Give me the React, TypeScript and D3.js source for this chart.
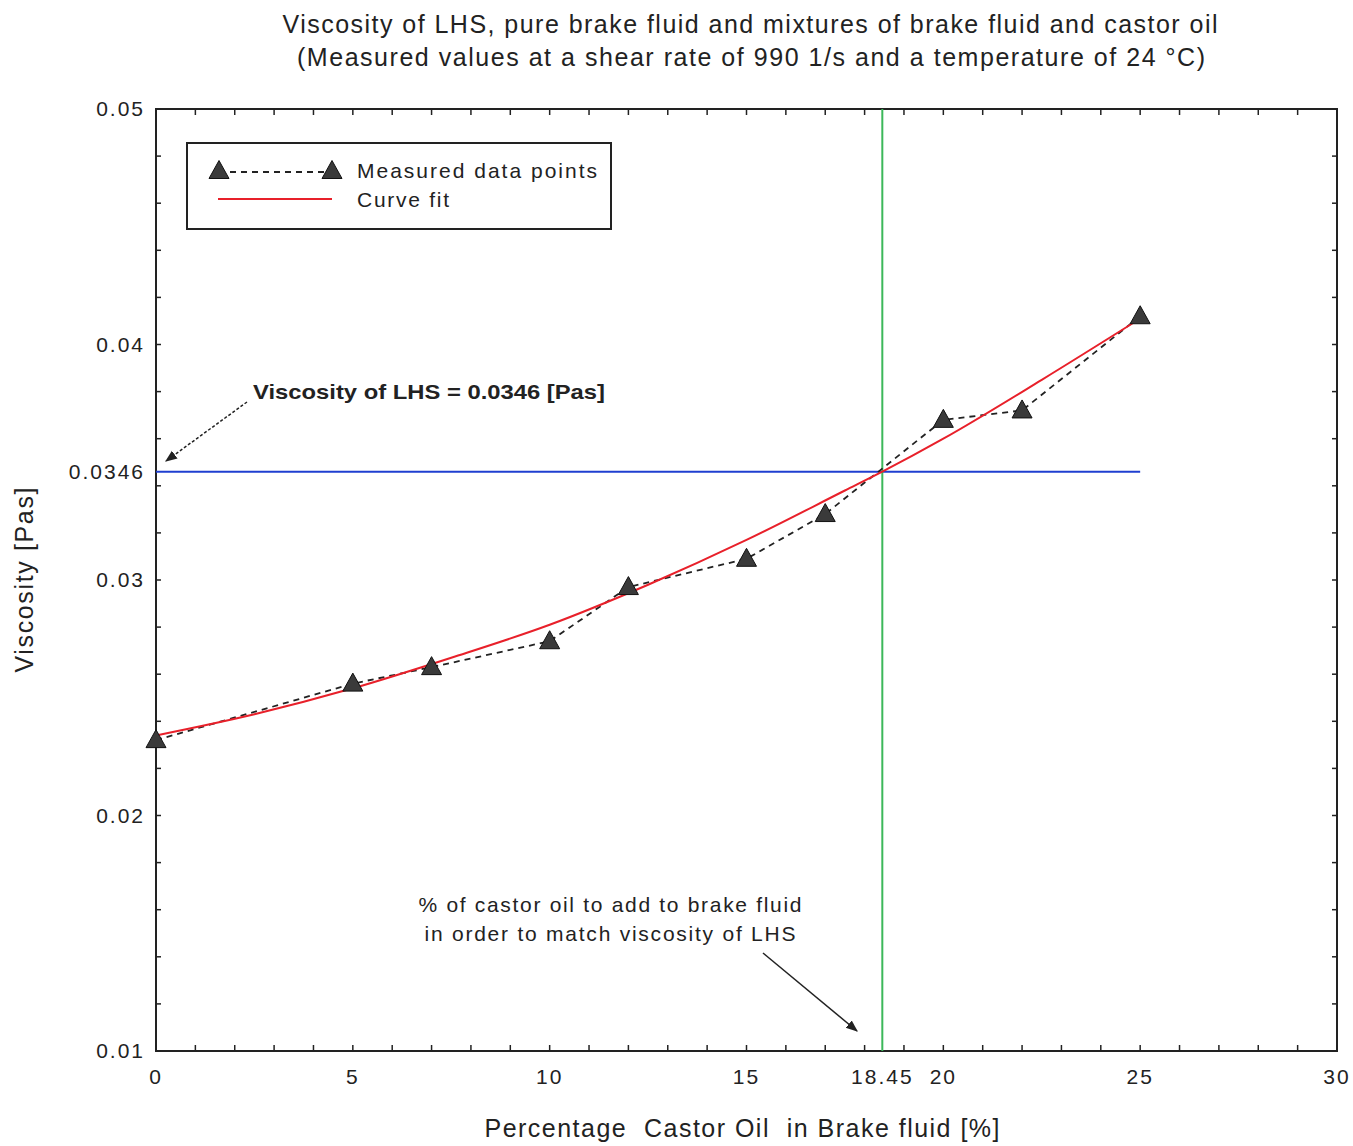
import React from "react";
import * as d3 from "d3";

const titleLines = [
  "Viscosity of LHS, pure brake fluid and mixtures of brake fluid and castor oil",
  "(Measured values at a shear rate of 990 1/s and a temperature of 24 \u00b0C)",
];
const xTickValues = [0, 5, 10, 15, 18.45, 20, 25, 30];
const xTickLabels = ["0", "5", "10", "15", "18.45", "20", "25", "30"];
const yTickValues = [0.01, 0.02, 0.03, 0.0346, 0.04, 0.05];
const yTickLabels = ["0.01", "0.02", "0.03", "0.0346", "0.04", "0.05"];

const measuredX = [0, 5, 7, 10, 12, 15, 17, 20, 22, 25];
const measuredY = [0.0232, 0.0256, 0.0263, 0.0274, 0.0297, 0.0309, 0.0328, 0.0368, 0.0372, 0.0412];

const fitX = [0, 2.5, 5, 7.5, 10, 12.5, 15, 17.5, 18.45, 20, 22.5, 25];
const fitY = [0.0234, 0.0243, 0.0254, 0.0267, 0.0281, 0.0298, 0.0317, 0.0338, 0.0346, 0.036, 0.0385, 0.0411];

const lhsViscosity = 0.0346;
const lhsLineX = [0, 25];
const matchPercent = 18.45;

const W = 1353;
const H = 1146;
const FONT = "'Liberation Sans', Arial, sans-serif";

export default function App() {
  const left = 156, right = 1337, top = 109, bottom = 1051;
  const x = d3.scaleLinear().domain([0, 30]).range([left, right]);
  const y = d3.scaleLinear().domain([0.01, 0.05]).range([bottom, top]);

  const measured = measuredX.map((v, i) => [v, measuredY[i]] as [number, number]);
  const fit = fitX.map((v, i) => [v, fitY[i]] as [number, number]);
  const lineGen = d3.line<[number, number]>().x((d) => x(d[0])).y((d) => y(d[1]));
  const fitGen = d3
    .line<[number, number]>()
    .x((d) => x(d[0]))
    .y((d) => y(d[1]))
    .curve(d3.curveMonotoneX);

  const tri = (cx: number, cy: number, s = 10) =>
    `M${cx},${cy - s * 1.05} L${cx + s},${cy + s * 0.75} L${cx - s},${cy + s * 0.75} Z`;

  const xMinor = d3.range(0, 31, 1);
  const yMinor = d3.range(0.01, 0.0501, 0.002);

  return (
    <div style={{ position: "absolute", left: 0, top: 0 }}>
      <svg width={W} height={H} style={{ display: "block", background: "#fff" }} fontFamily={FONT}>
        <defs>
          <marker id="ah" viewBox="0 0 10 10" refX="9" refY="5" markerWidth="8" markerHeight="8" orient="auto-start-reverse">
            <path d="M0,1 L10,5 L0,9 Z" fill="#222" />
          </marker>
        </defs>
        {/* Title */}
        <text x={750} y={33} textAnchor="middle" fontSize={25} fill="#222" textLength={935} lengthAdjust="spacing">
          {titleLines[0]}
        </text>
        <text x={751} y={66} textAnchor="middle" fontSize={25} fill="#222" textLength={908} lengthAdjust="spacing">
          {titleLines[1]}
        </text>

        {/* frame */}
        <rect x={left} y={top} width={right - left} height={bottom - top} fill="none" stroke="#222" strokeWidth={2} />

        {/* ticks */}
        {xMinor.map((v) => (
          <g key={"xt" + v}>
            <line x1={x(v)} x2={x(v)} y1={bottom} y2={bottom - 6} stroke="#222" strokeWidth={1.5} />
            <line x1={x(v)} x2={x(v)} y1={top} y2={top + 6} stroke="#222" strokeWidth={1.5} />
          </g>
        ))}
        {yMinor.map((v, i) => (
          <g key={"yt" + i}>
            <line x1={left} x2={left + 5} y1={y(v)} y2={y(v)} stroke="#222" strokeWidth={1.5} />
            <line x1={right} x2={right - 5} y1={y(v)} y2={y(v)} stroke="#222" strokeWidth={1.5} />
          </g>
        ))}

        {/* tick labels */}
        {xTickValues.map((v, i) => (
          <text key={"xl" + i} x={x(v)} y={1084} textAnchor="middle" fontSize={21} fill="#222" letterSpacing={2}>
            {xTickLabels[i]}
          </text>
        ))}
        {yTickValues.map((v, i) => (
          <text key={"yl" + i} x={145} y={y(v) + 7} textAnchor="end" fontSize={21} fill="#222" letterSpacing={2}>
            {yTickLabels[i]}
          </text>
        ))}

        {/* axis titles */}
        <text x={742} y={1137} textAnchor="middle" fontSize={25} fill="#222" textLength={515} lengthAdjust="spacing">
          Percentage&#160; Castor Oil&#160; in Brake fluid [%]
        </text>
        <text
          transform={`translate(33,580) rotate(-90)`}
          textAnchor="middle"
          fontSize={25}
          fill="#222"
          textLength={185}
          lengthAdjust="spacing"
        >
          Viscosity [Pas]
        </text>

        {/* LHS horizontal line */}
        <line
          x1={x(lhsLineX[0])}
          x2={x(lhsLineX[1])}
          y1={y(lhsViscosity)}
          y2={y(lhsViscosity)}
          stroke="#1f3fd0"
          strokeWidth={2}
        />
        {/* match vertical line */}
        <line x1={x(matchPercent)} x2={x(matchPercent)} y1={top} y2={bottom} stroke="#3cb85a" strokeWidth={2} />

        {/* measured dashed */}
        <path d={lineGen(measured) || ""} fill="none" stroke="#222" strokeWidth={1.8} strokeDasharray="6 5" />
        {/* curve fit */}
        <path d={fitGen(fit) || ""} fill="none" stroke="#e8202a" strokeWidth={2} />
        {/* markers */}
        {measured.map((d, i) => (
          <path key={"m" + i} d={tri(x(d[0]), y(d[1]))} fill="#3a3a3a" stroke="#111" strokeWidth={1} />
        ))}

        {/* legend */}
        <rect x={187} y={143} width={424} height={86} fill="#fff" stroke="#222" strokeWidth={2} />
        <line x1={219} x2={332} y1={172} y2={172} stroke="#222" strokeWidth={1.8} strokeDasharray="6 5" />
        <path d={tri(219, 171)} fill="#3a3a3a" stroke="#111" strokeWidth={1} />
        <path d={tri(332, 171)} fill="#3a3a3a" stroke="#111" strokeWidth={1} />
        <line x1={218} x2={332} y1={199} y2={199} stroke="#e8202a" strokeWidth={2} />
        <text x={357} y={178} fontSize={21} fill="#222" textLength={240} lengthAdjust="spacing">
          Measured data points
        </text>
        <text x={357} y={207} fontSize={21} fill="#222" textLength={92} lengthAdjust="spacing">
          Curve fit
        </text>

        {/* annotation 1 */}
        <text x={253} y={399} fontSize={21} fill="#222" fontWeight="bold" textLength={352} lengthAdjust="spacingAndGlyphs">
          Viscosity of LHS = 0.0346 [Pas]
        </text>
        <line x1={247} x2={166} y1={402} y2={461} stroke="#222" strokeWidth={1.5} strokeDasharray="3 2" markerEnd="url(#ah)" />

        {/* annotation 2 */}
        <text x={610} y={912} textAnchor="middle" fontSize={21} fill="#222" textLength={383} lengthAdjust="spacing">
          % of castor oil to add to brake fluid
        </text>
        <text x={610} y={941} textAnchor="middle" fontSize={21} fill="#222" textLength={371} lengthAdjust="spacing">
          in order to match viscosity of LHS
        </text>
        <line x1={763} x2={857} y1={953} y2={1031} stroke="#222" strokeWidth={1.5} markerEnd="url(#ah)" />
      </svg>
    </div>
  );
}
